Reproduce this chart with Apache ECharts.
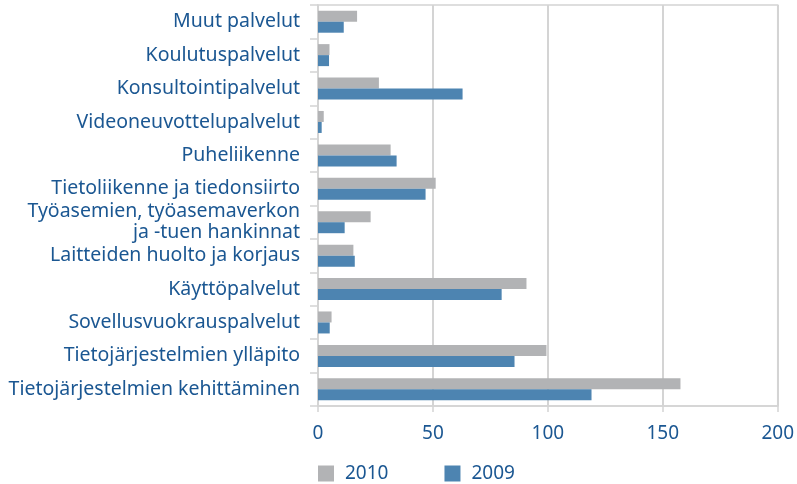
<!DOCTYPE html>
<html>
<head>
<meta charset="utf-8">
<script src="https://cdn.jsdelivr.net/npm/echarts@6/dist/echarts.min.js"></script>
<style>
html,body{margin:0;padding:0;background:#fff;}
#chart{width:797px;height:484px;}
</style>
</head>
<body>
<div id="chart"></div>
<script>
const categories = [
  "Muut palvelut",
  "Koulutuspalvelut",
  "Konsultointipalvelut",
  "Videoneuvottelupalvelut",
  "Puheliikenne",
  "Tietoliikenne ja tiedonsiirto",
  "Työasemien, työasemaverkon\nja -tuen hankinnat",
  "Laitteiden huolto ja korjaus",
  "Käyttöpalvelut",
  "Sovellusvuokrauspalvelut",
  "Tietojärjestelmien ylläpito",
  "Tietojärjestelmien kehittäminen"
];
const values2010 = [17, 5, 26.5, 2.5, 31.6, 51.2, 22.9, 15.4, 90.7, 5.9, 99.4, 157.7];
const values2009 = [11.2, 4.8, 62.9, 1.6, 34.2, 46.8, 11.6, 16, 79.9, 5.1, 85.5, 119];
const seriesNames = ["2010", "2009"];
const xTicks = [0, 50, 100, 150, 200];

const textColor = '#1b5792';
const gridColor = '#d4d4d4';
const chart = echarts.init(document.getElementById('chart'), null, {renderer: 'canvas'});
chart.setOption({
  animation: false,
  backgroundColor: '#fff',
  textStyle: {fontFamily: 'Noto Sans'},
  grid: {left: 318, right: 19, top: 5, bottom: 78, show: true, borderColor: gridColor, borderWidth: 1.5, containLabel: false},
  legend: {
    data: seriesNames,
    left: 313, top: 459,
    itemWidth: 16, itemHeight: 16, itemGap: 56,
    icon: 'rect',
    textStyle: {color: textColor, fontSize: 19, fontFamily: 'Noto Sans', padding: [0,0,0,6]}
  },
  xAxis: {
    type: 'value',
    min: xTicks[0], max: xTicks[xTicks.length - 1], interval: 50,
    axisLine: {show: true, lineStyle: {color: gridColor, width: 1.5}},
    axisTick: {show: true, length: 6, lineStyle: {color: gridColor, width: 1.5}},
    splitLine: {show: true, lineStyle: {color: gridColor, width: 2}},
    axisLabel: {color: textColor, fontSize: 19, margin: 18}
  },
  yAxis: {
    type: 'category',
    inverse: true,
    data: categories,
    axisLine: {show: true, lineStyle: {color: gridColor, width: 1.5}},
    axisTick: {show: true, length: 8, lineStyle: {color: gridColor, width: 1.5}},
    axisLabel: {color: textColor, fontSize: 19.5, margin: 18, lineHeight: 21, align: 'right', padding: [6,0,0,0]}
  },
  series: [
    {name: seriesNames[0], type: 'bar', data: values2010, barWidth: 11, barGap: '0%', itemStyle: {color: '#b2b3b5'}},
    {name: seriesNames[1], type: 'bar', data: values2009, barWidth: 11, barGap: '0%', itemStyle: {color: '#4d84b1'}}
  ]
});
</script>
</body>
</html>
